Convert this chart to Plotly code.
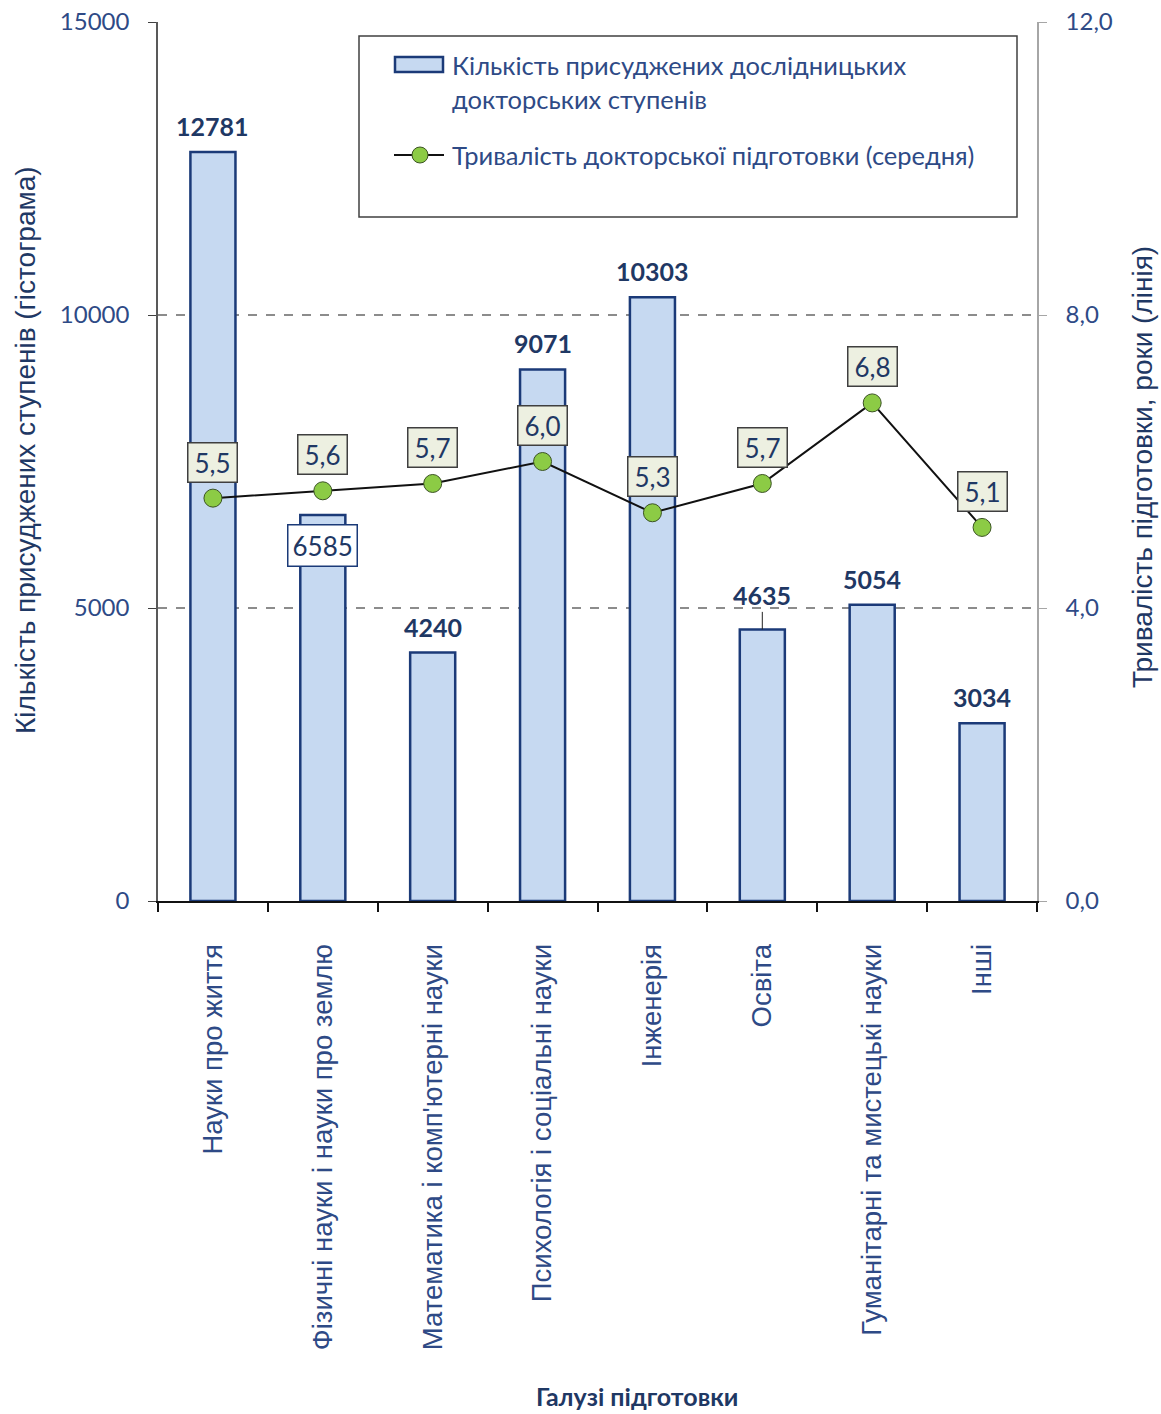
import plotly.graph_objects as go

# Fields of study
categories = [
    "Науки про життя",
    "Фізичні науки і науки про землю",
    "Математика і комп'ютерні науки",
    "Психологія і соціальні науки",
    "Інженерія",
    "Освіта",
    "Гуманітарні та мистецькі науки",
    "Інші",
]
# Number of research doctorates awarded (bars)
degrees = [12781, 6585, 4240, 9071, 10303, 4635, 5054, 3034]
# Median time to degree, years (line)
duration = [5.5, 5.6, 5.7, 6.0, 5.3, 5.7, 6.8, 5.1]

left_ticks = [0, 5000, 10000, 15000]
right_ticks = [0, 4, 8, 12]
right_tick_text = ["0,0", "4,0", "8,0", "12,0"]

W, H = 1161, 1414
ML, MR, MT, MB = 158, 124, 22, 513
PW, PH = W - ML - MR, H - MT - MB

NAVY = "#1F3864"
TICK_BLUE = "#2E4A86"
BAR_FILL = "#C6D9F1"
BAR_EDGE = "#1B3A78"
FONT = "Lato, 'Open Sans', sans-serif"
ARIAL = "'Liberation Sans', Arial, sans-serif"
NARROW = "'Liberation Sans Narrow', 'Arial Narrow', 'Liberation Sans', sans-serif"


def px(x):
    return (x - ML) / PW


def py(y):
    return (MT + PH - y) / PH


fig = go.Figure()

fig.add_trace(go.Bar(
    x=categories, y=degrees, name="Кількість присуджених дослідницьких докторських ступенів",
    marker=dict(color=BAR_FILL, line=dict(color=BAR_EDGE, width=2.5)),
    width=0.41, yaxis="y", showlegend=False,
))
fig.add_trace(go.Scatter(
    x=categories, y=duration, name="Тривалість докторської підготовки (середня)",
    mode="lines+markers", yaxis="y2", showlegend=False,
    line=dict(color="#111111", width=2),
    marker=dict(size=18, color="#8CCB45", line=dict(color="#3B5323", width=1)),
))

annotations = []
bar_font = dict(family=FONT, size=25, color=NAVY, weight="bold")

# bar value labels
for cat, v in zip(categories, degrees):
    if v == 6585:
        annotations.append(dict(
            x=cat, y=v, xref="x", yref="y", text=str(v), showarrow=False,
            yshift=-30, font=dict(family=FONT, size=26, color=NAVY),
            bgcolor="white", bordercolor=BAR_EDGE, borderwidth=1.5, borderpad=4,
        ))
    elif v == 4635:
        annotations.append(dict(
            x=cat, y=v, xref="x", yref="y", text=str(v), showarrow=True,
            ax=0, ay=-34, arrowhead=0, arrowwidth=1, arrowcolor="#222222",
            font=bar_font, standoff=0,
        ))
    else:
        annotations.append(dict(
            x=cat, y=v, xref="x", yref="y", text=str(v), showarrow=False,
            yshift=26, font=bar_font,
        ))

# line value labels
for cat, v in zip(categories, duration):
    annotations.append(dict(
        x=cat, y=v, xref="x", yref="y2", text=f"{v:.1f}".replace(".", ","),
        showarrow=False, yshift=36,
        font=dict(family=FONT, size=26, color=NAVY),
        bgcolor="#EDF0E1", bordercolor="#3F3F3F", borderwidth=1.5, borderpad=3,
        width=42,
    ))

# axis titles
annotations.append(dict(
    x=px(25), y=py(450), xref="paper", yref="paper", xanchor="center", yanchor="middle",
    text="Кількість присуджених ступенів (гістограма)",
    textangle=-90, showarrow=False, font=dict(family=NARROW, size=28, color=NAVY),
))
annotations.append(dict(
    x=px(1142), y=py(467), xref="paper", yref="paper", xanchor="center", yanchor="middle",
    text="Тривалість підготовки, роки (лінія)",
    textangle=-90, showarrow=False, font=dict(family=NARROW, size=28, color=NAVY),
))
annotations.append(dict(
    x=px(637), y=py(1396), xref="paper", yref="paper", xanchor="center", yanchor="middle",
    text="Галузі підготовки",
    showarrow=False, font=dict(family=FONT, size=25, color=NAVY, weight="bold"),
))

# legend box
shapes = [
    dict(type="rect", xref="paper", yref="paper", x0=px(359), x1=px(1017), y0=py(36), y1=py(217),
         line=dict(color="#404040", width=1.5), fillcolor="white", layer="above"),
    dict(type="rect", xref="paper", yref="paper", x0=px(395), x1=px(443), y0=py(57), y1=py(72),
         line=dict(color=BAR_EDGE, width=2.5), fillcolor=BAR_FILL, layer="above"),
    dict(type="line", xref="paper", yref="paper", x0=px(394), x1=px(444), y0=py(155), y1=py(155),
         line=dict(color="#111111", width=2), layer="above"),
    dict(type="circle", xref="paper", yref="paper", x0=px(412), x1=px(428), y0=py(147), y1=py(163),
         line=dict(color="#3B5323", width=1), fillcolor="#8CCB45", layer="above"),
]
legend_font = dict(family=FONT, size=25.5, color=TICK_BLUE)
for text, y in [("Кількість присуджених дослідницьких", 65),
                ("докторських ступенів", 99),
                ("Тривалість докторської підготовки (середня)", 155)]:
    annotations.append(dict(
        x=px(450), y=py(y), xref="paper", yref="paper", text=text, showarrow=False,
        xanchor="left", yanchor="middle", font=legend_font,
    ))

fig.update_layout(
    width=W, height=H,
    margin=dict(l=ML, r=MR, t=MT, b=MB, autoexpand=False),
    paper_bgcolor="white", plot_bgcolor="white",
    showlegend=False,
    annotations=annotations,
    shapes=shapes,
    xaxis=dict(
        type="category", showline=True, linecolor="#111111", linewidth=2,
        ticks="outside", ticklen=9, tickwidth=2, tickcolor="#111111", tickson="boundaries",
        tickangle=-90, ticklabelstandoff=30, automargin=False,
        tickfont=dict(family=ARIAL, size=27.5, color=TICK_BLUE),
        showgrid=False, range=[-0.5, 7.5],
    ),
    yaxis=dict(
        range=[0, 15000], tickvals=left_ticks, ticktext=[str(t) for t in left_ticks],
        showgrid=True, gridcolor="#8C8C8C", gridwidth=1.5, griddash="dash",
        zeroline=False, showline=True, linecolor="#595959", linewidth=1.5,
        ticks="outside", ticklen=8, tickcolor="#404040", automargin=False,
        ticklabelstandoff=14,
        tickfont=dict(family=FONT, size=24, color=TICK_BLUE),
    ),
    yaxis2=dict(
        range=[0, 12], tickvals=right_ticks, ticktext=right_tick_text,
        overlaying="y", side="right", showgrid=False, zeroline=False,
        showline=True, linecolor="#A6A6A6", linewidth=1.5, automargin=False,
        ticks="outside", ticklen=8, tickcolor="#A6A6A6",
        ticklabelstandoff=14,
        tickfont=dict(family=FONT, size=24, color=TICK_BLUE),
    ),
)

fig.write_html("out.html")
